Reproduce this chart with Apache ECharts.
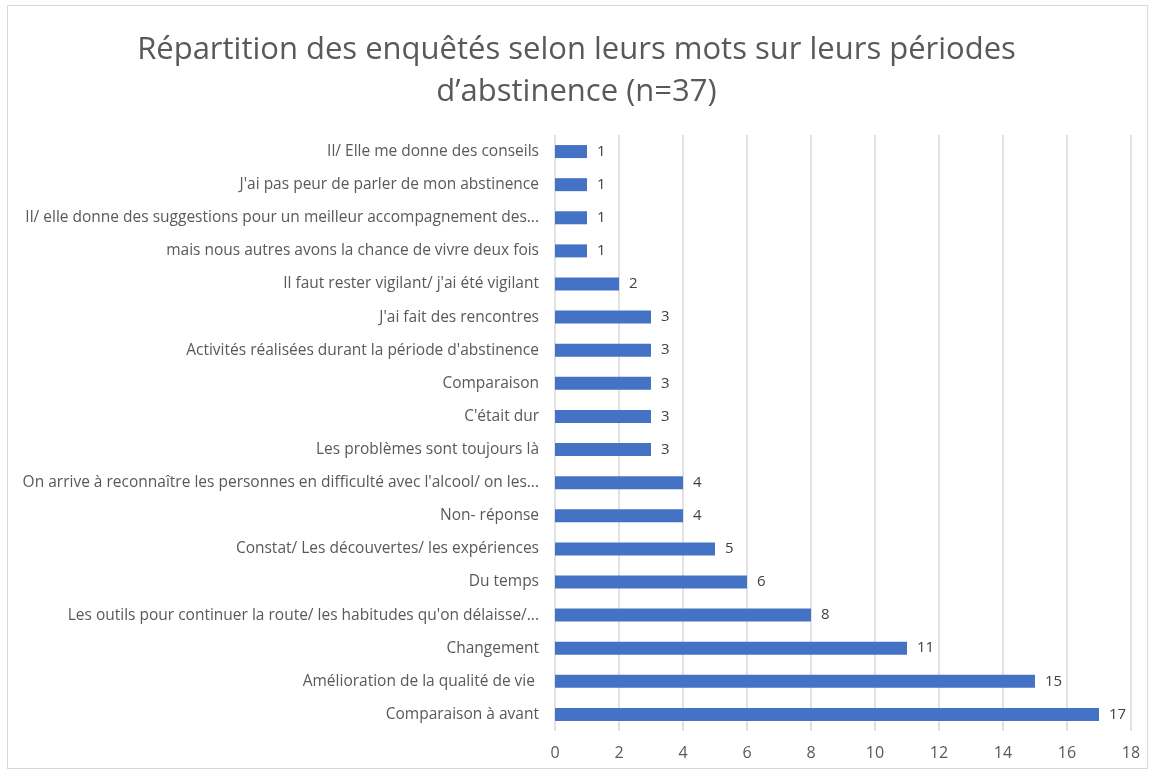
<!DOCTYPE html>
<html>
<head>
<meta charset="utf-8">
<script src="https://cdn.jsdelivr.net/npm/echarts@6/dist/echarts.min.js"></script>
<style>
  html, body { margin: 0; padding: 0; background: #fff; }
  #frame {
    position: absolute; left: 7px; top: 5px; width: 1141px; height: 764px;
    border: 1px solid #d9d9d9; box-sizing: border-box;
  }
  #main { position: absolute; left: 0; top: 0; width: 1153px; height: 773px; }
</style>
</head>
<body>
<div id="frame"></div>
<div id="main"></div>
<script>
// categories listed from bottom to top
const categories = [
  "Comparaison à avant",
  "Amélioration de la qualité de vie ",
  "Changement",
  "Les outils pour continuer la route/ les habitudes qu'on délaisse/...",
  "Du temps",
  "Constat/ Les découvertes/ les expériences",
  "Non- réponse",
  "On arrive à reconnaître les personnes en difficulté avec l'alcool/ on les...",
  "Les problèmes sont toujours là",
  "C'était dur",
  "Comparaison",
  "Activités réalisées durant la période d'abstinence",
  "J'ai fait des rencontres",
  "Il faut rester vigilant/ j'ai été vigilant",
  "mais nous autres avons la chance de vivre deux fois",
  "Il/ elle donne des suggestions pour un meilleur accompagnement des...",
  "J'ai pas peur de parler de mon abstinence",
  "Il/ Elle me donne des conseils"
];
const counts = [17, 15, 11, 8, 6, 5, 4, 4, 3, 3, 3, 3, 3, 2, 1, 1, 1, 1];
const xTicks = { min: 0, max: 18, step: 2 };
const titleText = "Répartition des enquêtés selon leurs mots sur leurs périodes\nd’abstinence (n=37)";

const chart = echarts.init(document.getElementById("main"));
const font = "'Open Sans', sans-serif";

chart.setOption({
  animation: false,
  title: {
    text: titleText,
    left: "center",
    top: 24,
    textStyle: {
      fontFamily: font,
      fontSize: 31,
      fontWeight: "normal",
      color: "#595959",
      lineHeight: 42
    }
  },
  grid: { left: 555, right: 22, top: 135, bottom: 42 },
  xAxis: {
    type: "value",
    min: xTicks.min,
    max: xTicks.max,
    interval: xTicks.step,
    axisLine: { show: false },
    axisTick: { show: false },
    axisLabel: { color: "#595959", fontSize: 16, fontFamily: font, margin: 14 },
    splitLine: { show: true, lineStyle: { color: "#d9d9d9", width: 1.5 } }
  },
  yAxis: {
    type: "category",
    data: categories,
    axisLine: { show: false },
    axisTick: { show: false },
    axisLabel: { color: "#595959", fontSize: 15.5, fontFamily: font, margin: 16 }
  },
  series: [{
    type: "bar",
    data: counts,
    barWidth: 13,
    itemStyle: { color: "#4472C4" },
    label: {
      show: true,
      position: "right",
      distance: 10,
      color: "#404040",
      fontSize: 15,
      fontFamily: font
    }
  }]
});
</script>
</body>
</html>
